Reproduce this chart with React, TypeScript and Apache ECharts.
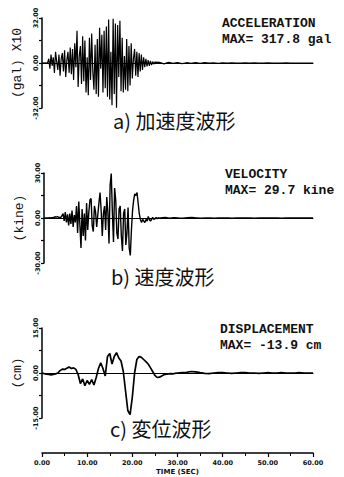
import React, { useEffect, useRef } from "react";
import * as echarts from "echarts";

// ---- time axis ----
const TIME_MIN = 0;
const TIME_MAX = 60;
const TIME_INTERVAL = 10;

// ---- acceleration (gal x10), sampled every 0.25 s from 0 to 25 s ----
const ACC_DT = 0.25;
const accValues = [
  0, 0.1, -0.1, 0.2, -0.2, 0.3,
  3, -4, 6, -2, 4, -7, 8, 1, -5, 6, -9, 3, 7, -6, 9, -10, 2, 8, -7, 11, -8,
  10, -12, 14, -3, 23, -17, 5, 12, -15, 19,
  -13, 16, -21, 4, -23, 18, -12, 21, -6, -19, 13, -22,
  17, -24, 25, -4, 20, -21, 23, -18, 26,
  -24, 31, -26, 8, -30, 31.5, -22, 28, -31.8, 27, -10, 30,
  -20, 18, -21, 5, -19, 17, -20, 12, -16,
  14, -11, 3, 10, -9, 8, -10, 7, -6,
  6, -5, 4, -3, 3, -2.5, 2, -2, 1.5, -1.5, 1, -0.8, 0.6,
];
// tail, every 1 s from 26 s to 60 s
const accTail = [
  0.5, -0.6, 0.4, -0.3, 0.3, -0.4, 0.2, -0.2, 0.3, -0.2, 0.2, -0.1, 0.1, -0.2,
  0.1, -0.1, 0.1, 0, -0.1, 0.1, 0, 0.1, -0.1, 0, 0.1, 0, -0.1, 0, 0.1, 0, 0, -0.1,
  0, 0, 0,
];

// ---- velocity (kine), every 0.25 s from 0 to 26 s ----
const VEL_DT = 0.25;
const velValues = [
  0, 0, 0.1, 0, 0.1, 0.2, 0.1, 0.2, 0.3, 0.5,
  0.8, 0.6, 0.9, 0.5, 0.3, 0.4,
  1.5, 3, -2, 4, -3, 2.5, -5, 3, -4, 5, -6, 2, -3,
  8, -10, 11, -4, -20, 6, -12, 3,
  -15, 10, -8, 4,
  12, 13, -5, -9, 8, 4, -6, 2,
  10, 17, 5, -12, 3, 8,
  -8, 14, 4, -17, 22, 29.7,
  4, -16, 20, 12, -10, -14, 6,
  8, -12, -22, 3, 6, -18, -10, 7, -20, -25, -8,
  5, 12, 16, 15, 17, 10, 3,
  -1, -3, -1, -2, -3, -1, -2, 1, -1, -2, -1, 0.5, -1, -0.5, 0.3, -0.5, 0.2, -0.3, 0.1,
];
// tail, every 1 s from 27 s to 60 s
const velTail = [
  0.3, -0.2, 0.2, 0, -0.1, 0.2, 0.3, 0.1, -0.1, 0, 0.1, -0.1, 0, 0.1, 0, -0.1, 0,
  0.1, 0, 0, -0.1, 0, 0.1, 0, 0, 0, -0.1, 0, 0, 0.1, 0, 0, 0, 0,
];

// ---- displacement (cm), every 0.5 s from 0 to 30 s ----
const DIS_DT = 0.5;
const disValues = [
  0, -0.2, -0.4, -0.5, -0.6, -0.5, -0.3, 0,
  0.8, 1.3, 1.2, 1.6, 2.0, 1.5, 1.7, 1.2,
  -0.5, -3.5, -2.0, -4.2, -2.5, -3.8, -2.2, -4.0, -1.5,
  1.5, 3.4, 1.5, -1.0, 5.5, 6.5, 3.0, 5.5, 6.8, 5.0, 4.0,
  0.5, -6, -12.5, -13.9, -8, 0,
  4.5, 5.5, 5.2, 4.5, 3.8, 3.0, 1.8, 0.5,
  -0.8, -1.5, -1.4, -1.0, -0.6, -0.4, -0.3, -0.2, -0.3, -0.1, 0,
];
// tail, every 1 s from 31 s to 60 s
const disTail = [
  0.1, 0.2, 0.5, 0.4, 0.1, -0.1, -0.2, 0, 0.1, 0.1, 0, -0.1, 0, 0.1, 0.1, 0, 0,
  -0.1, 0, 0.1, 0, 0, 0.1, 0, 0, 0, 0.1, 0, 0, 0,
];

// ---- axis ranges ----
const ACC_MAX = 32;
const VEL_MAX = 30;
const DIS_MAX = 15;

// ---- texts ----
const panelTitles = ["ACCELERATION", "VELOCITY", "DISPLACEMENT"];
const panelMaxTexts = ["MAX= 317.8 gal", "MAX= 29.7 kine", "MAX= -13.9 cm"];
const panelUnits = ["(gal) X10", "(kine)", "(cm)"];
const panelCaptions = ["a) 加速度波形", "b) 速度波形", "c) 変位波形"];
const timeAxisName = "TIME (SEC)";

function build(values: number[], dt: number, tail: number[], tailStart: number) {
  const pts: number[][] = values.map((v, i) => [i * dt, v]);
  tail.forEach((v, i) => pts.push([tailStart + i, v]));
  return pts;
}

export default function App() {
  const ref = useRef<HTMLDivElement>(null);
  useEffect(() => {
    if (!ref.current) return;
    const chart = echarts.init(ref.current, null, { renderer: "svg" });

    const grids = [
      { left: 42, top: 18, width: 271, height: 90 },
      { left: 44, top: 173, width: 269, height: 90 },
      { left: 42, top: 328, width: 271, height: 90 },
      { left: 42, top: 452, width: 271, height: 1 },
    ];
    const maxes = [ACC_MAX, VEL_MAX, DIS_MAX];
    const nameGaps = [13, 12, 14];
    const labelFont = {
      fontFamily: "DejaVu Sans",
      fontWeight: "bold" as const,
      fontSize: 6.5,
      color: "#111",
    };

    const xAxes: any[] = [0, 1, 2].map((i) => ({
      type: "value",
      gridIndex: i,
      min: TIME_MIN,
      max: TIME_MAX,
      interval: TIME_INTERVAL,
      axisLine: { show: true, onZero: true, lineStyle: { color: "#000", width: 1.2 } },
      axisTick: { show: false },
      axisLabel: { show: false },
      splitLine: { show: false },
    }));
    xAxes.push({
      type: "value",
      gridIndex: 3,
      position: "bottom",
      min: TIME_MIN,
      max: TIME_MAX,
      interval: TIME_INTERVAL,
      name: timeAxisName,
      nameLocation: "middle",
      nameGap: 15,
      nameTextStyle: {
        fontFamily: "DejaVu Sans",
        fontWeight: "bold",
        fontSize: 7,
        color: "#111",
      },
      axisLine: { show: true, onZero: false, lineStyle: { color: "#000", width: 1.5 } },
      axisTick: { show: true, length: 4, lineStyle: { color: "#000", width: 1.2 } },
      minorTick: { show: true, splitNumber: 2, length: 3, lineStyle: { color: "#000", width: 1 } },
      axisLabel: {
        ...labelFont,
        margin: 6,
        formatter: (v: number) => v.toFixed(2),
      },
      splitLine: { show: false },
    });

    const yAxes: any[] = [0, 1, 2].map((i) => ({
      type: "value",
      gridIndex: i,
      min: -maxes[i],
      max: maxes[i],
      interval: maxes[i] / 2,
      name: panelUnits[i],
      nameLocation: "middle",
      nameGap: nameGaps[i],
      nameTextStyle: {
        fontFamily: "Liberation Mono",
        fontSize: 13,
        color: "#111",
      },
      axisLine: { show: true, lineStyle: { color: "#000", width: 1.5 } },
      axisTick: { show: true, length: 3, lineStyle: { color: "#000", width: 1.2 } },
      axisLabel: {
        ...labelFont,
        rotate: 90,
        margin: 3,
        showMinLabel: true,
        showMaxLabel: true,
        formatter: (v: number) =>
          v === 0 || Math.abs(v) === maxes[i] ? v.toFixed(2) : "",
      },
      splitLine: { show: false },
    }));
    yAxes.push({
      type: "value",
      gridIndex: 3,
      show: false,
      min: 0,
      max: 1,
    });

    const series: any[] = [
      build(accValues, ACC_DT, accTail, 26),
      build(velValues, VEL_DT, velTail, 27),
      build(disValues, DIS_DT, disTail, 31),
    ].map((data, i) => ({
      type: "line",
      xAxisIndex: i,
      yAxisIndex: i,
      data,
      symbol: "none",
      lineStyle: { color: "#000", width: [1.2, 1.4, 1.7][i] },
      silent: true,
    }));

    const titleY = [23, 174, 329];
    const titleX = [222, 225, 220];
    const captionY = [120, 276, 428];
    const captionX = [113, 111, 110];
    const graphic: any[] = [];
    for (let i = 0; i < 3; i++) {
      graphic.push({
        type: "text",
        x: titleX[i],
        y: titleY[i],
        style: {
          text: panelTitles[i],
          fontFamily: "Liberation Mono",
          fontWeight: "bold",
          fontSize: 13,
          fill: "#111",
          verticalAlign: "middle",
        },
      });
      graphic.push({
        type: "text",
        x: titleX[i],
        y: titleY[i] + 16,
        style: {
          text: panelMaxTexts[i],
          fontFamily: "Liberation Mono",
          fontWeight: "bold",
          fontSize: 13,
          fill: "#111",
          verticalAlign: "middle",
        },
      });
      graphic.push({
        type: "text",
        x: captionX[i],
        y: captionY[i],
        style: {
          text: panelCaptions[i],
          fontFamily: "Noto Sans CJK JP",
          fontSize: 20,
          fill: "#111",
          verticalAlign: "middle",
        },
      });
    }

    chart.setOption({
      animation: false,
      backgroundColor: "#fff",
      grid: grids,
      xAxis: xAxes,
      yAxis: yAxes,
      series,
      graphic,
    });
    return () => chart.dispose();
  }, []);
  return (
    <div
      ref={ref}
      style={{ position: "absolute", left: 0, top: 0, width: 344, height: 477, background: "#fff" }}
    />
  );
}
